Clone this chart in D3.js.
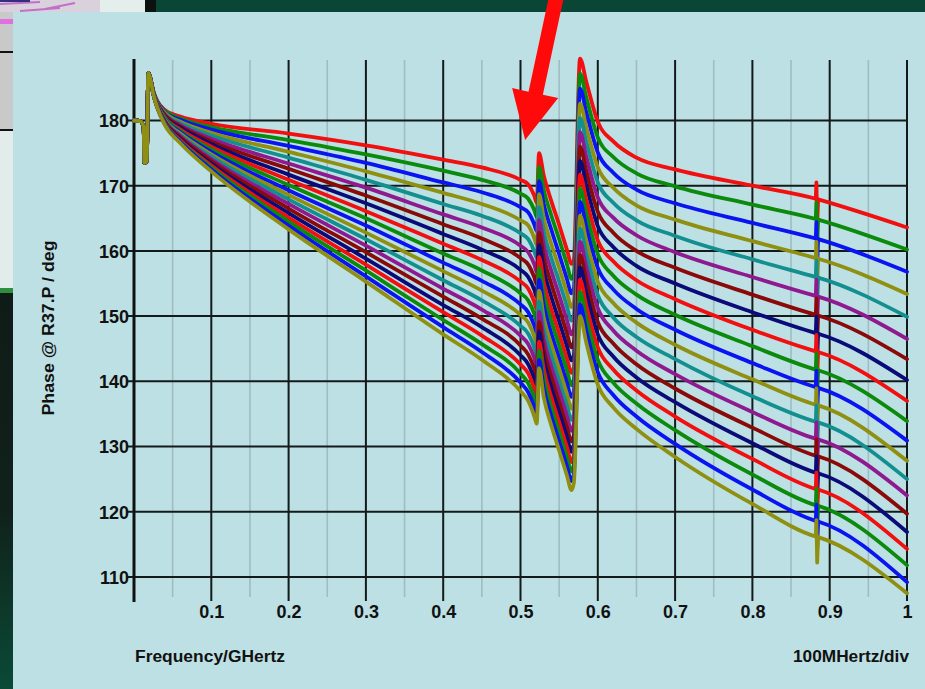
<!DOCTYPE html>
<html><head><meta charset="utf-8">
<script src="https://cdn.jsdelivr.net/npm/d3@7"></script>
<style>html,body{margin:0;padding:0;background:#0a4636;overflow:hidden}</style>
</head><body><svg id="c" width="925" height="689"></svg>
<script>
// ---- data ----
const leadFreq  = [0, 0.008, 0.0125, 0.0135, 0.0165, 0.0185, 0.021];
const leadPhase = [180, 179.9, 179.0, 173.5, 173.8, 187.3, 186.5];
const freqs = [0.025,0.03,0.04,0.06,0.1,0.2,0.3,0.4,0.45,0.5,0.51,0.518,0.521,0.524,0.53,0.54,0.55,0.56,0.566,0.569,0.577,0.585,0.6,0.62,0.65,0.7,0.8,0.882,0.8828,0.8838,0.885,1.0];
// the narrow glitch near 0.883 GHz
const glitchFreq = [0.882,0.8828,0.8838,0.885];
const trace01 = [184.5,183.0,181.6,180.6,179.5,178.0,176.2,174.0,172.8,170.9,170.2,168.4,167.4,175.0,171.6,167.6,164.0,160.2,158.0,158.6,189.5,186.0,179.8,176.8,174.3,172.5,170.0,168.0,170.5,164.0,167.9,163.6];
const trace02 = [184.5,182.9,181.5,180.3,179.0,177.0,174.8,172.3,170.9,168.8,168.0,166.2,165.2,172.9,169.4,165.4,161.8,158.0,155.7,156.4,187.2,183.6,177.4,174.4,171.9,169.9,167.1,164.9,167.4,160.9,164.8,160.2];
const trace03 = [184.4,182.9,181.3,180.1,178.6,176.1,173.5,170.5,169.0,166.7,165.9,164.0,163.0,170.7,167.2,163.2,159.5,155.7,153.5,154.2,184.9,181.3,175.1,172.0,169.4,167.3,164.3,161.9,164.4,157.9,161.8,156.8];
const trace04 = [184.4,182.8,181.2,179.8,178.1,175.2,172.2,168.9,167.2,164.7,163.9,161.9,160.9,168.7,165.1,161.0,157.4,153.6,151.4,152.1,182.6,179.0,172.8,169.7,167.0,164.8,161.5,158.9,161.4,154.9,158.8,153.4];
const trace05 = [184.4,182.7,181.0,179.6,177.7,174.3,170.9,167.2,165.4,162.7,161.8,159.9,158.9,166.7,163.0,158.9,155.3,151.5,149.3,150.0,180.4,176.8,170.5,167.4,164.7,162.3,158.7,156.0,158.5,152.0,155.9,149.9];
const trace06 = [184.3,182.7,180.9,179.3,177.2,173.4,169.7,165.6,163.6,160.8,159.8,157.9,156.8,164.7,161.0,156.9,153.2,149.4,147.2,147.9,178.2,174.5,168.2,165.1,162.4,159.8,156.0,153.1,155.6,149.1,153.0,146.5];
const trace07 = [184.3,182.6,180.8,179.1,176.8,172.6,168.5,164.1,161.9,158.9,157.9,155.9,154.9,162.8,159.0,154.9,151.2,147.4,145.2,146.0,176.0,172.3,166.0,162.8,160.0,157.4,153.3,150.2,152.7,146.2,150.1,143.4];
const trace08 = [184.3,182.6,180.6,178.9,176.4,171.7,167.3,162.6,160.2,157.1,156.0,154.0,152.9,160.9,157.1,152.9,149.2,145.4,143.2,144.0,173.8,170.1,163.8,160.6,157.7,155.0,150.6,147.4,149.9,143.4,147.3,140.2];
const trace09 = [184.3,182.5,180.5,178.6,176.0,170.9,166.1,161.1,158.6,155.3,154.2,152.1,151.1,159.1,155.2,151.0,147.3,143.5,141.3,142.1,171.7,167.9,161.6,158.4,155.5,152.6,147.9,144.6,147.1,140.6,144.5,137.0];
const trace10 = [184.2,182.5,180.4,178.4,175.6,170.1,165.0,159.6,157.0,153.5,152.4,150.3,149.2,157.3,153.4,149.2,145.5,141.7,139.4,140.3,169.6,165.8,159.5,156.2,153.3,150.2,145.4,141.8,144.3,137.8,141.7,133.9];
const trace11 = [184.2,182.4,180.2,178.2,175.2,169.3,163.9,158.2,155.4,151.8,150.6,148.5,147.4,155.6,151.6,147.3,143.6,139.8,137.6,138.5,167.5,163.7,157.4,154.1,151.1,147.9,142.8,139.1,141.6,135.1,139.0,130.9];
const trace12 = [184.2,182.4,180.1,178.0,174.8,168.6,162.8,156.9,153.9,150.2,149.0,146.8,145.7,153.9,149.8,145.6,141.9,138.1,135.8,136.7,165.4,161.6,155.3,152.0,149.0,145.6,140.3,136.4,138.9,132.4,136.3,127.8];
const trace13 = [184.2,182.3,180.0,177.8,174.5,167.9,161.8,155.5,152.4,148.5,147.3,145.1,144.0,152.2,148.1,143.9,140.1,136.3,134.1,135.0,163.4,159.6,153.2,149.8,146.8,143.4,137.7,133.8,136.3,129.8,133.7,125.0];
const trace14 = [184.1,182.3,179.9,177.6,174.1,167.2,160.8,154.2,151.0,147.0,145.7,143.5,142.4,150.7,146.5,142.2,138.5,134.7,132.4,133.4,161.4,157.6,151.2,147.8,144.7,141.1,135.3,131.2,133.7,127.2,131.1,122.5];
const trace15 = [184.1,182.2,179.8,177.4,173.8,166.5,159.8,153.0,149.6,145.5,144.1,141.9,140.8,149.1,144.9,140.6,136.8,133.0,130.8,131.7,159.4,155.6,149.1,145.8,142.6,138.9,132.9,128.6,131.1,124.6,128.5,119.7];
const trace16 = [184.1,182.2,179.7,177.2,173.4,165.8,158.8,151.7,148.3,144.0,142.6,140.3,139.2,147.6,143.4,139.0,135.3,131.5,129.2,130.2,157.5,153.6,147.2,143.8,140.6,136.8,130.5,126.0,128.5,122.0,125.9,116.9];
const trace17 = [184.1,182.1,179.6,177.0,173.1,165.1,157.9,150.6,147.0,142.6,141.2,138.8,137.7,146.1,141.9,137.5,133.7,129.9,127.6,128.7,155.6,151.6,145.2,141.8,138.6,134.6,128.1,123.5,126.0,119.5,123.4,114.3];
const trace18 = [184.0,182.1,179.5,176.8,172.8,164.5,157.0,149.4,145.7,141.2,139.7,137.4,136.3,144.7,140.4,136.0,132.2,128.4,126.2,127.2,153.7,149.7,143.3,139.8,136.6,132.5,125.7,121.0,123.5,117.0,120.9,111.8];
const trace19 = [184.0,182.0,179.4,176.7,172.5,163.9,156.1,148.3,144.5,139.8,138.3,136.0,134.9,143.3,139.0,134.6,130.8,127.0,124.7,125.8,151.8,147.8,141.4,137.9,134.6,130.4,123.4,118.6,121.1,114.6,118.5,109.2];
const trace20 = [184.0,182.0,179.3,176.5,172.2,163.3,155.3,147.2,143.3,138.5,137.0,134.6,133.5,142.0,137.6,133.2,129.4,125.6,123.3,124.4,150.0,146.0,139.5,136.0,132.7,128.4,121.2,116.2,118.7,112.2,116.1,107.5];
const traceColors = ["#f20f0f","#0b8a0b","#0a14f0","#8f8f12","#138f8f","#8f1a8f","#8a0a0a","#0a0a78",
                     "#f20f0f","#0b8a0b","#0a14f0","#8f8f12","#138f8f","#8f1a8f","#8a0a0a","#0a0a78",
                     "#f20f0f","#0b8a0b","#0a14f0","#8f8f12"];
const phaseTicks = [110,120,130,140,150,160,170,180];
const freqTicks  = [0.1,0.2,0.3,0.4,0.5,0.6,0.7,0.8,0.9,1];
const freqMinor  = [0.05,0.15,0.25,0.35,0.45,0.55,0.65,0.75,0.85,0.95];
const arrowTip = {freq: 0.506, phase: 177.0};

const traces = [trace01,trace02,trace03,trace04,trace05,trace06,trace07,trace08,trace09,trace10,
                trace11,trace12,trace13,trace14,trace15,trace16,trace17,trace18,trace19,trace20];

// ---- layout ----
const svg = d3.select("#c");
const L = 134, R = 907, T = 60, B = 600;
const x = d3.scaleLinear().domain([0, 1]).range([L, R]);
const y = d3.scaleLinear().domain([106.46, 189.28]).range([B, T]);

// background pieces of the screenshot
svg.append("rect").attr("x",0).attr("y",0).attr("width",925).attr("height",689).attr("fill","#0a4636");
const lg = svg.append("defs").append("linearGradient").attr("id","lg").attr("x1",0).attr("y1",0).attr("x2",0).attr("y2",1);
lg.append("stop").attr("offset","0").attr("stop-color","#0f1b16");
lg.append("stop").attr("offset","0.55").attr("stop-color","#10211b");
lg.append("stop").attr("offset","1").attr("stop-color","#0a4a36");
svg.append("rect").attr("x",0).attr("y",292).attr("width",14).attr("height",397).attr("fill","url(#lg)");
svg.append("rect").attr("x",0).attr("y",0).attr("width",100).attr("height",14).attr("fill","#d9d2dc");
svg.append("rect").attr("x",100).attr("y",0).attr("width",45).attr("height",14).attr("fill","#e4eeeb");
svg.append("rect").attr("x",145).attr("y",0).attr("width",11).attr("height",14).attr("fill","#0c120f");
svg.append("path").attr("d","M0,4 L40,2 M45,9 L75,3 M20,11 L60,8").attr("stroke","#c070c8").attr("stroke-width",2).attr("fill","none");
svg.append("path").attr("d","M0,1 L30,1").attr("stroke","#303080").attr("stroke-width",2);
svg.append("rect").attr("x",0).attr("y",12).attr("width",14).attr("height",120).attr("fill","#c9c9c9");
svg.append("rect").attr("x",0).attr("y",19).attr("width",14).attr("height",5).attr("fill","#e070e0");
svg.append("rect").attr("x",0).attr("y",51).attr("width",14).attr("height",2).attr("fill","#111");
svg.append("rect").attr("x",0).attr("y",129).attr("width",14).attr("height",2).attr("fill","#111");
svg.append("rect").attr("x",0).attr("y",131).attr("width",14).attr("height",157).attr("fill","#e2ecea");
svg.append("rect").attr("x",0).attr("y",288).attr("width",14).attr("height",5).attr("fill","#2f8f3f");

// chart panel
svg.append("rect").attr("x",13).attr("y",12).attr("width",912).attr("height",677).attr("fill","#bde0e4");

// minor vertical grid
svg.append("g").selectAll("line").data(freqMinor).join("line")
  .attr("x1",d=>x(d)).attr("x2",d=>x(d)).attr("y1",T).attr("y2",B-3)
  .attr("stroke","#9fbdc2").attr("stroke-width",1.6);
// horizontal grid
svg.append("g").selectAll("line").data(phaseTicks).join("line")
  .attr("x1",L-7).attr("x2",R).attr("y1",d=>y(d)).attr("y2",d=>y(d))
  .attr("stroke","#141a1a").attr("stroke-width",2);
// major vertical grid
svg.append("g").selectAll("line").data(freqTicks).join("line")
  .attr("x1",d=>x(d)).attr("x2",d=>x(d)).attr("y1",T).attr("y2",B+1)
  .attr("stroke","#141a1a").attr("stroke-width",2);
// y axis line
svg.append("line").attr("x1",L).attr("x2",L).attr("y1",T-1).attr("y2",B+2)
  .attr("stroke","#0e1212").attr("stroke-width",3);

// traces
const allFreq = leadFreq.concat(freqs);
const smooth = d3.line().x(d=>x(d[0])).y(d=>y(d[1])).curve(d3.curveMonotoneX);
const straight = d3.line().x(d=>x(d[0])).y(d=>y(d[1]));
const isSpikeTip = f => f === glitchFreq[1] || f === glitchFreq[2];
const tg = svg.append("g").selectAll("g").data(traces).join("g")
  .attr("fill","none")
  .attr("stroke",(d,i)=>traceColors[i])
  .attr("stroke-width",3.8)
  .attr("stroke-linejoin","round")
  .attr("stroke-linecap","round");
tg.append("path").attr("d", vals => {
  const pts = allFreq.map((f,i)=>[f, i < leadPhase.length ? leadPhase[i] : vals[i-leadPhase.length]]);
  return smooth(pts.filter(p => !isSpikeTip(p[0])));
});
tg.append("path").attr("d", vals => {
  const pts = freqs.map((f,i)=>[f, vals[i]]).filter(p => glitchFreq.includes(p[0]));
  return straight(pts);
});

// axes labels
const font = "'Liberation Sans', Arial, Helvetica, sans-serif";
const yAx = svg.append("g").attr("transform",`translate(${L},0)`)
  .call(d3.axisLeft(y).tickValues(phaseTicks).tickSize(0).tickPadding(5).tickFormat(d3.format("d")));
yAx.select(".domain").remove();
yAx.selectAll("text").attr("font-family",font).attr("font-weight","bold").attr("font-size",18).attr("fill","#111").attr("dy","0.36em");

const xAx = svg.append("g").attr("transform",`translate(0,${B})`)
  .call(d3.axisBottom(x).tickValues(freqTicks).tickSize(0).tickPadding(5).tickFormat(d3.format("~g")));
xAx.select(".domain").remove();
xAx.selectAll("text").attr("font-family",font).attr("font-weight","bold").attr("font-size",18).attr("fill","#111");

// titles
svg.append("text").attr("x",135).attr("y",661.5).text("Frequency/GHertz")
  .attr("font-family",font).attr("font-weight","bold").attr("font-size",17).attr("fill","#111")
  .attr("textLength",150).attr("lengthAdjust","spacingAndGlyphs");
svg.append("text").attr("x",793).attr("y",661.5).text("100MHertz/div")
  .attr("font-family",font).attr("font-weight","bold").attr("font-size",17).attr("fill","#111")
  .attr("textLength",116).attr("lengthAdjust","spacingAndGlyphs");
svg.append("text").attr("transform","translate(54,328) rotate(-90)").attr("text-anchor","middle")
  .text("Phase @ R37.P / deg")
  .attr("font-family",font).attr("font-weight","bold").attr("font-size",16).attr("fill","#111")
  .attr("textLength",175).attr("lengthAdjust","spacingAndGlyphs");

// red annotation arrow, anchored on the data point it marks
const tx = x(arrowTip.freq), ty = y(arrowTip.phase);
const arrowShape = [[25.2,-150],[40.2,-150],[17.7,-45.3],[33,-42],[0,0],[-13,-52],[3.4,-48.4]];
svg.append("path")
  .attr("d", d3.line()(arrowShape.map(p=>[tx+p[0], ty+p[1]])) + "Z")
  .attr("fill","#ff0a0a");
</script>
</body></html>
